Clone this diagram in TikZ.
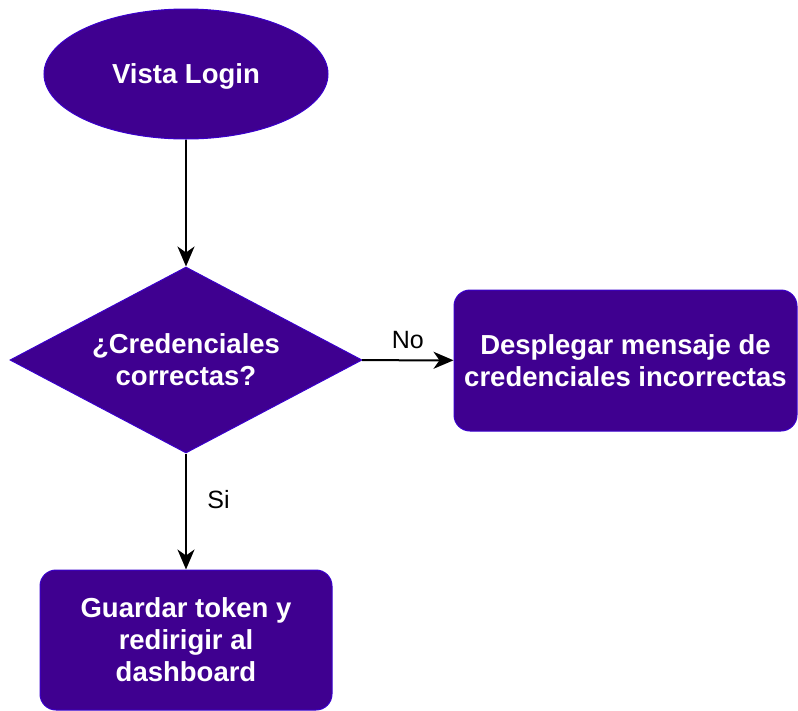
\documentclass[tikz,border=0pt]{standalone}
\usepackage{fontspec}
\setmainfont{Liberation Sans}
\usetikzlibrary{shapes.geometric,arrows.meta}

\definecolor{flowfill}{HTML}{3F0090}
\definecolor{flowline}{HTML}{3A00CC}

\tikzset{
	flownode/.style={draw=flowline, fill=flowfill, line width=1pt, text=white, inner sep=0pt, align=center, font=\fontsize{27.5}{32}\selectfont\bfseries},
	flowarrow/.style={line width=2pt, -{Stealth[length=20pt, width=17pt, inset=6pt]}},
	flowlabel/.style={font=\fontsize{25}{30}\selectfont}
}

\begin{document}
\begin{tikzpicture}[x=1pt, y=-1pt]
			\useasboundingbox (0,0) rectangle (798,710);
			% Define nodes
			\node[flownode, ellipse, text depth=0pt, minimum width=284pt, minimum height=130pt] (login) at (186,74) {Vista Login};
			\node[flownode, diamond, aspect=1.9, minimum width=352pt, minimum height=186pt] (check) at (186,360) {¿Credenciales\\correctas?};
			\node[flownode, rectangle, rounded corners=16pt, minimum width=343pt, minimum height=141pt] (error) at (625.5,360.5) {Desplegar mensaje de\\credenciales incorrectas};
			\node[flownode, rectangle, rounded corners=16pt, minimum width=292pt, minimum height=140pt] (token) at (186,640) {Guardar token y\\redirigir al\\dashboard};
			
			% Draw arrows between nodes
			\draw[flowarrow] (login) -- (check);
			\draw[flowarrow] (check) -- node[flowlabel, above=7pt] (no) {No} (error);
			\draw[flowarrow] (check) -- node[flowlabel, right=17pt, pos=0.4] (si) {Si} (token);
		\end{tikzpicture}
\end{document}
